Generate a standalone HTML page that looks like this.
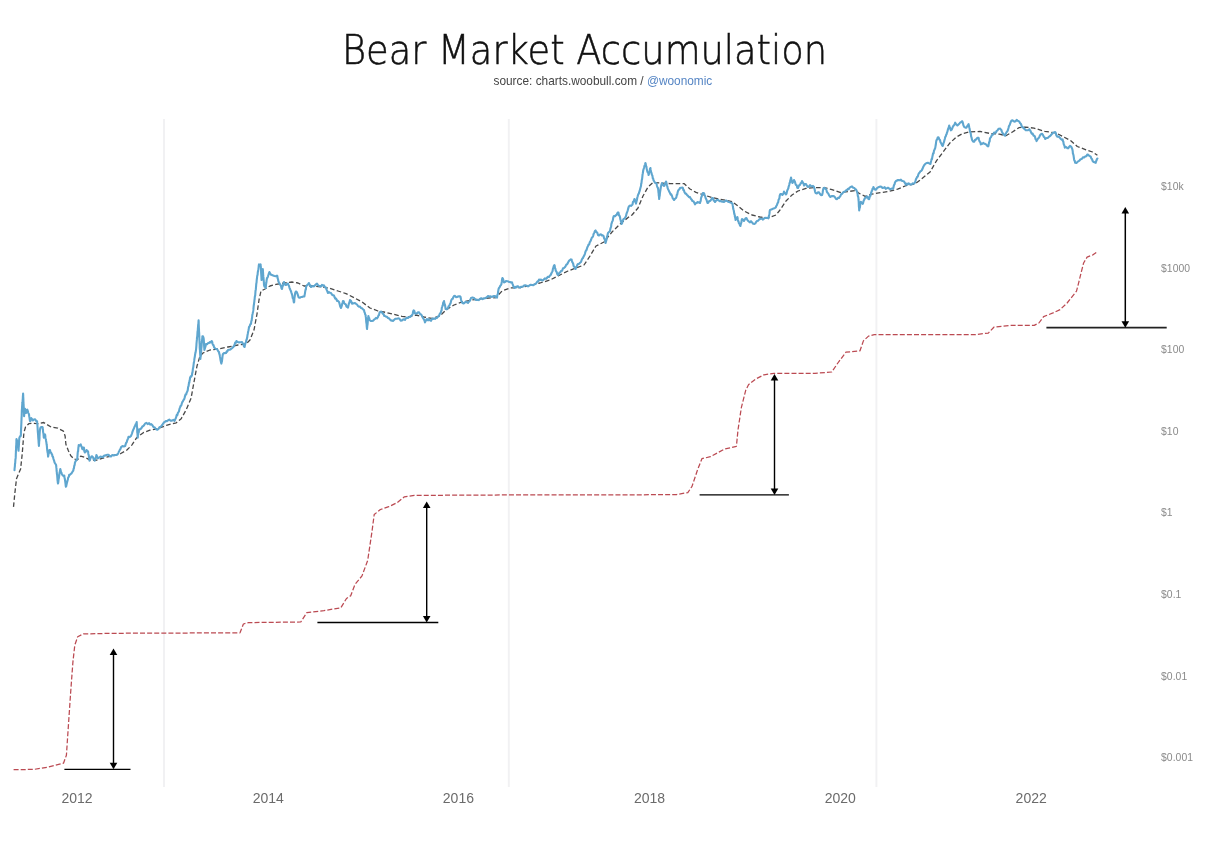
<!DOCTYPE html>
<html lang="en"><head><meta charset="utf-8"><title>Bear Market Accumulation</title>
<style>
html,body{margin:0;padding:0;background:#fff;}
body{width:1222px;height:850px;overflow:hidden;position:relative;font-family:"Liberation Sans",sans-serif;}
#title{position:absolute;left:342px;top:26.5px;font-size:40px;line-height:46px;color:#111;white-space:nowrap;font-family:"DejaVu Sans Light","DejaVu Sans","Liberation Sans",sans-serif;font-weight:200;transform-origin:0 0;transform:scaleX(0.92);-webkit-text-stroke:0.55px #111;}
#sub{position:absolute;left:493.5px;top:73px;font-size:11.85px;line-height:16px;color:#444;white-space:nowrap;}
#sub span{color:#5585c4;}
svg{position:absolute;left:0;top:0;}
.yl{font-family:"Liberation Sans",sans-serif;font-size:10.4px;letter-spacing:0.05px;fill:#8a8a8a;}
.xl{font-family:"Liberation Sans",sans-serif;font-size:14px;fill:#6b6b6b;}
</style></head><body>
<div id="title">Bear Market Accumulation</div>
<div id="sub">source: charts.woobull.com / <span>@woonomic</span></div>
<svg width="1222" height="850" viewBox="0 0 1222 850">
<line x1="164" y1="119.5" x2="164" y2="786.5" stroke="#e4e4e7" stroke-width="2" stroke-dasharray="1,1"/><line x1="508.8" y1="119.5" x2="508.8" y2="786.5" stroke="#e4e4e7" stroke-width="2" stroke-dasharray="1,1"/><line x1="876.4" y1="119.5" x2="876.4" y2="786.5" stroke="#e4e4e7" stroke-width="2" stroke-dasharray="1,1"/>
<polyline fill="none" stroke="#bb4a52" stroke-width="1.25" stroke-dasharray="5,2.1" stroke-linejoin="round" points="13.6,769.7 33.9,769.4 48,767.2 63.5,763.2 66.4,755.3 68.3,727.1 70.6,693.2 72.9,662.1 74.8,645.2 77.7,636.7 83.3,633.9 113,633.3 240,632.8 243.4,624 248.5,622.6 300.8,622 306.9,612.6 323.9,610.6 340.8,607.8 346.5,598.5 350.7,595.7 355,584.4 362,575.9 367.7,560.4 371.9,532.1 374.2,514.6 380.4,509.5 388.8,506.7 397.3,502.5 404.4,496.8 414.3,495.4 515.9,494.9 620,494.9 676.5,494.6 687.8,492.6 692,486.4 697.7,469.4 701.9,458.7 710.4,456.7 724.5,449.1 736.4,446.3 738,429.9 741.4,407.3 745.7,390.4 748.5,384.7 755.6,379.1 764,374.8 773.9,373.4 814.9,373.4 831.8,372 837.5,363.5 845.9,352.2 860,350.8 863.4,340.9 868.5,336.1 874.2,334.7 975.3,334.6 988.3,333.1 994.1,327 1010.6,325.4 1034.2,325.4 1038.9,323 1043.6,316.7 1053,312.9 1060.1,309.6 1067.1,303 1071.8,297.1 1076.5,291.2 1078.9,281.8 1081.2,272.4 1083.6,263 1087.1,257.1 1093,254.8 1097.3,251.7"/>
<polyline fill="none" stroke="#484848" stroke-width="1.3" stroke-dasharray="4.6,2.4" stroke-linejoin="round" points="13.5,506.9 14.8,493.7 16.5,478.8 18.5,473.9 20.6,469 22.2,454.1 23.9,432.7 25.5,427 28.8,423.7 32.9,423.2 37.9,423.7 43.7,422.5 51.1,427 57.7,428.1 63.4,431.1 65.1,436 65.9,444.3 68.4,450.8 70.8,455.8 74.1,459.1 77.4,459.9 80.7,456.1 84.8,457.4 89.8,459.9 95.6,460.4 102.1,458.3 112,455.8 120.3,453.8 126.9,450 131.8,445.1 136.7,437.7 143.3,432.7 149.9,430.2 158.2,428.6 166.4,425.3 176.3,422.8 181.2,418.7 186.2,409.7 191.1,398.1 194,382 197,366 200,356 203,353 210,350 218,349 228,347 238,345 246,344 250,340 254,330 257,314 259,300 261,291 265,289 270,286 276,284.4 284,283 292,282 298,283 304,286 312,286 322,287 330,288.4 338,291 346,293.6 354,297.6 362,302 370,308 378,311 386,312.4 394,314.4 402,316.4 408,317 416,315 424,317 432,318.4 440,316 446,310 454,305 462,302 472,300 484,298.4 496,297.6 502,291 510,288 520,287.6 530,285.6 540,283 550,280 558,276 568,271 576,268 584,265 590,256 596,246 604,242 612,232 620,224 630,216 632,215 638,208 643,196 648,187 653,182.4 660,183 670,183.6 678,183.6 684,183.6 690,189 696,192.4 704,195 712,197.6 722,199.6 732,201.6 738,206 744,211 752,215 760,217 768,218 776,215 780,210 786,201 792,195 798,191 806,188.4 814,187.6 824,187.6 832,189.6 840,192.4 848,191.6 856,190.4 858.7,193.1 865.2,196.3 871.6,194.2 880.3,192.7 889,191.4 897.6,189.2 906.3,185.5 914.9,184 921.4,179 930.1,171.9 936.6,160.6 943.1,152 949.6,143.3 956.1,137.2 962.6,133.6 969.1,132 979.9,131.4 990.7,133.6 999.4,134.2 1005.9,135.7 1012.4,132 1018.9,127.7 1025.4,127.1 1034,128.1 1044.8,131.4 1055.7,132.9 1064.3,137.2 1070.8,140.7 1077.3,146.5 1086,149.8 1092.5,152 1097.4,155.2"/>
<polyline fill="none" stroke="#5fa6cf" stroke-width="2.1" stroke-linejoin="round" stroke-linecap="round" points="14.5,470.3 14.6,468.5 14.8,466.8 14.9,466.3 15,463.8 15.2,463.2 15.3,461.5 15.4,459.5 15.6,458.8 15.7,457.4 15.8,455.2 15.8,454.4 15.9,452.4 15.9,451 16,450.2 16.1,449.5 16.1,446.8 16.2,445.6 16.3,444.9 16.3,444.1 16.4,442 16.4,440.2 16.5,439 17.1,440.9 17.6,441 17.7,441.6 17.9,444.4 18,444.8 18.1,446 18.2,447.3 18.4,449.1 18.5,450.8 18.6,449.9 18.7,447.3 18.8,446.6 18.9,445.2 19,443.3 19.1,442.2 19.2,439.8 19.3,438.4 19.4,437.7 20.1,436.3 20.8,436 20.9,434.9 20.9,432.9 21,431.3 21,430.3 21.1,428.6 21.2,426.9 21.2,426.3 21.3,424.7 21.4,422.4 21.4,421.5 21.5,420 21.5,419.1 21.6,417.4 21.7,415.2 21.7,414.9 21.8,411.9 21.8,411 21.9,409.7 22,408.7 22.1,406.1 22.2,405.3 22.3,403 22.4,402.6 22.6,401.3 22.7,399.5 22.8,398.6 22.9,396.1 23,395.3 23.1,393.5 23.2,395.1 23.2,396.5 23.3,397.7 23.4,399.8 23.4,401.4 23.5,402 23.5,403.7 23.6,404.1 23.7,406.6 23.7,408 23.8,410 23.9,411.1 23.9,411.6 24,413.2 24,415.1 24.1,416.2 24.3,413.9 24.5,413.2 24.6,411.2 24.8,409.6 25,408.8 25.3,409.4 25.7,412 26,412.9 26.4,411.2 26.9,410.3 27.3,409.7 27.8,410.9 28.3,413.1 28.8,413.8 29,414.3 29.2,416.2 29.5,417.6 29.7,419.4 29.9,420.5 30.1,421.2 30.5,420.9 30.9,418.8 31.3,418.2 32.1,419.1 32.9,420.4 34,419.5 35.1,419.2 36.1,420.9 37.1,421.2 37.2,423.5 37.3,423.4 37.4,424.9 37.5,426.5 37.6,427.9 37.7,429.8 37.8,431.4 37.9,432.7 38,433.7 38.1,434.7 38.2,437 38.3,438.3 38.5,440.2 38.6,442.3 38.7,443.3 38.8,444.5 38.9,445.9 39,444.7 39.1,443.5 39.2,441 39.3,441.1 39.4,439.5 39.5,438.3 39.5,436.8 39.6,434.7 39.7,433.3 39.8,431.4 39.9,431 40,429.4 40.6,427.4 41.2,427 42.5,427 42.7,427.6 42.8,429.2 43,430.4 43.1,432.1 43.3,432.9 43.5,434.1 43.6,435.7 43.8,437.7 44.2,435.9 44.6,435.3 45,434.4 45.2,435 45.5,437.9 45.7,438.8 45.9,439.4 46.1,441 46.4,442.6 46.6,444.3 46.8,445.4 46.9,446.4 47.1,449 47.3,450.7 47.4,451.1 47.6,452.5 47.8,453.1 47.9,454.5 48.1,456.6 48.4,455 48.6,453.5 48.9,453.2 49.1,450.7 49.4,450 50,450 50.5,452.5 51.1,452.5 51.6,453.9 52.1,454.5 52.5,456.5 53,456.9 53.5,459.1 54,460.3 54.5,462.2 55,463.2 55.5,464 56,464.8 56.2,465.8 56.3,467.4 56.5,468.5 56.6,471 56.8,472.1 56.9,473.9 57.1,474.6 57.2,475.8 57.4,478.3 57.5,480.1 57.7,481.3 57.8,482.6 58,483.5 58.2,482.8 58.4,481.4 58.6,479.2 58.8,478.5 59,477.2 59.2,475.6 59.4,473.6 59.6,472.3 59.9,471.3 60.1,469.9 60.3,469 60.7,470.6 61,472.3 61.4,472.6 61.8,473.9 62.6,475.3 63.5,475.9 64.3,475.6 64.5,477.8 64.7,478.2 64.9,479.3 65.1,480.7 65.3,482.1 65.5,483.5 65.7,485.6 65.9,486.8 66.2,486.3 66.5,484.9 66.9,483 67.2,482 67.5,480.5 67.8,479.9 68.2,477.4 68.5,477.3 68.9,476.6 69.2,474.7 70,474.8 70.8,473.9 71.6,473.3 72.5,471.7 73.3,470.6 73.6,468.7 73.9,468.4 74.2,466.2 74.4,465.7 74.7,464.6 75,462.4 75.7,461.1 76.4,460 77.1,459.1 77.3,458.5 77.4,456.7 77.6,454.3 77.7,452.8 77.9,451.5 78.1,451.4 78.2,449.9 78.4,447.3 78.5,447.1 78.7,445.1 79.7,445.6 80.7,444.3 81.1,445.8 81.6,446.5 82,448.1 82.4,449.2 83.1,447.7 83.7,447.5 84,447.9 84.2,450.8 84.5,451.5 84.8,452.5 85.4,451.7 85.9,451.6 86.5,450 87.3,450.7 88.1,451.7 88.3,453.7 88.5,454.9 88.7,455 88.9,456.4 89.1,457.8 89.3,458.9 89.5,460.7 90,459.8 90.5,458.2 90.9,457.5 91.4,456.6 92.2,456.3 93.1,457.4 93.6,459.2 94.2,459.3 94.7,460.7 95.1,459.2 95.6,458 96,457.2 96.4,455 96.9,456 97.5,458 98,458.3 98.8,457.7 99.7,457.2 100.5,456.6 101.8,456.9 103,457.1 104.1,455.5 105.2,455.6 106.3,455 107.4,454.8 108.5,454.8 109.6,456.1 111,456.4 112.3,455.1 113.7,455.5 115.1,455 116.4,455 117.8,454.1 118.3,453.1 118.9,451.5 119.4,450.7 120,449.6 120.5,448.9 121.1,447.2 122.5,446.1 123.8,446.4 125.2,445.9 125.7,444.1 126.1,442.9 126.6,442.5 127.1,440.7 127.6,439.5 128,438.6 128.5,436.8 129.8,437.1 131,436 131.5,434.6 132,433.6 132.4,432 132.9,430.7 133.4,429.4 133.9,428.5 134.5,426.8 135.1,425.8 135.6,424.4 136.1,424 136.7,422 136.8,423.8 136.9,425.5 137,427.1 137.1,427.3 137.2,429.2 137.2,431.4 137.3,432.6 137.4,432.8 137.5,434.2 137.6,436.2 137.7,437.7 137.9,435.5 138.2,434.5 138.4,432.8 138.7,432.5 138.9,431.3 139.2,429.4 140.4,429.3 141.7,427.8 142.5,426.2 143.3,426.1 144.2,425 145,423.7 146.4,422.9 147.7,424.1 149.1,423.2 150.2,424.7 151.3,424.1 152.4,425.3 153.4,427.1 154.4,427.2 155.5,428.4 156.5,429.4 157.5,429.7 158.6,428.8 159.6,427 160.6,427 161.4,425.9 162.2,425 163.1,423.7 163.9,422.5 164.7,422 165.8,421.1 166.9,421.3 168,420.4 169.3,419.6 170.6,420.7 172,420.6 173.3,419.9 174.6,420.9 175.2,419.3 175.7,418.5 176.2,416.9 176.8,414.8 177.3,415.1 177.9,412.9 178.5,412.1 179,411.2 179.6,408.4 180.1,407.4 180.7,405.7 181.2,405.7 181.8,403.5 182.3,402 182.9,401.4 183.4,400 184,399.6 184.5,398.1 185.1,395.9 185.6,394.4 186.2,394.5 186.7,392.6 187.3,391.5 187.8,389.9 188,387.8 188.3,386.5 188.5,386.3 188.8,384.5 189,382.5 189.3,382.8 189.5,380.9 189.8,379.9 190,378 190.7,376.3 191.3,376.6 192,375 192.2,372.8 192.4,372.8 192.7,370.6 192.9,368.9 193.1,367.9 193.3,367.1 193.6,364.5 193.8,362.8 194,362 194.2,360.7 194.4,358.9 194.7,357.3 194.9,356.1 195.1,354.5 195.3,353.5 195.6,352.3 195.8,351 196,350 196.1,349 196.3,346.7 196.4,345.6 196.5,343.6 196.6,342.5 196.8,340.4 196.9,339.4 197,337.5 197.1,337.3 197.3,335.5 197.4,334 197.5,332.1 197.6,331.2 197.8,330.7 197.9,327.9 198,327.8 198.1,325.7 198.2,324.5 198.4,323.7 198.5,321.6 198.6,320.4 198.7,321.9 198.7,323.7 198.8,325.7 198.8,326 198.9,328.4 199,329.6 199,331 199.1,332 199.2,333.4 199.2,334.3 199.3,336 199.3,337.3 199.4,340 199.5,340.6 199.5,341.9 199.6,344 199.7,344.6 199.7,347.3 199.8,348.8 199.9,349.8 200,350.4 200,351.7 200.1,353.2 200.2,354.8 200.3,355.7 200.3,357.5 200.4,359 200.5,357.1 200.7,356.9 200.8,355.5 200.9,353.3 201.1,351.3 201.2,351.2 201.3,348.5 201.5,347.2 201.6,346 201.7,343.7 201.8,343 201.9,341.8 202.1,340.5 202.2,338.6 202.3,337.8 202.4,336.4 203,336.3 203.6,338 203.7,338.9 203.8,339.9 203.9,341.8 204,342.5 204,343.8 204.1,345.6 204.2,346.9 204.3,348.8 204.4,350 204.7,348.9 205,348.1 205.4,346.7 205.7,345.6 206,344 207,344.3 208,343.1 209,343 209.9,342 210.7,342.5 211.6,341 212.1,341.6 212.6,343.8 213,344.9 213.5,345 214,347 215,348.3 216,349 217,349 217.7,350.2 218.3,351.4 219,352 219.3,354 219.6,354.3 219.9,356.4 220.2,357.8 220.5,359.9 220.8,361.2 221.1,362.7 221.4,363.6 221.6,362.4 221.9,361.6 222.1,359.8 222.3,358.5 222.5,356.3 222.8,354.5 223,354 224,353 225,353.1 226,353 226.7,351.3 227.3,351.6 228,350 229,349.8 230,349.6 231,349 232,348.2 233,347.3 234,346 234.6,344.7 235.2,342.6 235.8,342.8 236.4,341 237.7,342.1 239,342.4 240,342.3 241,342.2 242,342 242.7,343.5 243.3,343.7 243.9,346.2 244.6,347 244.9,345.3 245.3,343.7 245.6,342.7 246,342.3 246.3,340 246.7,339.7 247,338 247.2,337.5 247.5,335.2 247.8,333.7 248,332.5 248.2,331.5 248.5,330.2 248.8,328.6 249,327 249.7,326.3 250.3,324.2 251,324 251.2,322 251.4,320.9 251.7,320.4 251.9,318.3 252.1,317.5 252.3,315.1 252.6,313.9 252.8,312.9 253,312 253.2,310.9 253.4,309.4 253.5,308 253.7,305.8 253.9,304.8 254.1,303.2 254.3,301.8 254.5,299.7 254.6,299.6 254.8,296.9 255,296 255.2,295.5 255.3,294 255.5,291 255.6,290.4 255.8,289.7 255.9,288.5 256.1,286.2 256.2,284.5 256.4,283 256.5,283 256.7,280.2 256.8,279.5 257,278 257.2,276 257.4,275.3 257.6,274.7 257.8,271.9 258,271.8 258.2,269.9 258.4,269.2 258.6,267.5 258.8,265.3 259,264.4 259.8,265.1 260.6,264.4 260.7,265.8 260.8,266.4 260.9,267.8 261,270.1 261.1,271.4 261.1,272.6 261.2,273.7 261.3,275.5 261.4,276.8 261.5,279.2 261.6,280 261.8,277.7 261.9,277.7 262.1,276.5 262.2,273.8 262.4,273.9 262.5,272.1 262.7,271.1 262.8,269 262.9,270.1 263,271.7 263.1,273.2 263.2,275.7 263.3,276.4 263.5,277.5 263.6,279.1 263.7,280.2 263.8,281.3 263.9,282.8 264,285 264.5,286.6 265.1,286.6 265.6,288 265.8,287.4 266,284.7 266.2,283.3 266.4,282.3 266.6,280.3 266.8,279.2 267,278 267.5,277.6 268,276.3 268.4,275 268.9,273.4 269.4,272 270.3,273.7 271.1,274.8 272,275 273.2,275.6 274.4,276 275.7,276.2 277,275.6 277.3,276 277.7,278.5 278,279.2 278.3,281 278.7,282 279,283 279.7,283.6 280.4,285 280.9,285.5 281.5,288.4 282,289 282.4,286.9 282.8,286.1 283.2,284.5 283.6,283 284,282 284.7,283.4 285.3,284.9 286,285 287,283.9 288,283.6 288.5,285.2 289,285.9 289.5,287.8 290,289 290.5,290.2 291,291.2 291.4,292.6 291.9,294.1 292.4,296 292.7,298 293,298.6 293.4,299.3 293.7,301.9 294,302.4 294.2,302 294.3,299.6 294.5,297.7 294.7,296.5 294.9,294.9 295,294.1 295.2,293 295.8,291.6 296.4,291.6 296.9,292.3 297.4,293.6 298,295.3 298.5,297.1 299,297.6 300,297.8 301,297 302,297 303.2,296.5 304.4,296.4 304.6,295.1 304.9,293.6 305.1,292.2 305.4,290.4 305.6,289.5 305.9,289.4 306.1,286.6 306.4,286 307.3,285 308.1,284.2 309,283 309.7,285 310.3,285.2 311,287 312,286.4 313,286.1 314,286.4 315,285.3 316,284.4 317,283.6 318,285.2 319,285.8 320,286 321,286.5 322,284.9 323,285.6 324,285.4 325,287.3 326,287.6 326.5,289.7 327,290.3 327.5,291.8 328,293 329,292.1 330,292.8 331,293 332,294.6 333,295.3 334,295.6 334.6,297.3 335.2,298.6 335.8,298.4 336.4,299.2 337,301 338,300.9 339,302 339.4,303.2 339.8,304.7 340.2,306.4 340.6,307.2 341,308 341.4,306.9 341.8,305.7 342.2,303.7 342.6,302.5 343,301 343.7,301.2 344.3,303.5 345,304 345.8,304.4 346.5,306.6 347.2,307 348,307.6 348.3,306 348.7,304.4 349,303.4 349.3,302.8 349.7,301.6 350,300 350.7,300.5 351.3,301.6 352,303.6 353,303.4 354,303.3 355,303 356,303.8 357,304.5 358,306 359,306.8 360,306.5 361,308 362,308.3 363,309.3 364,310 364.4,312.1 364.8,312.8 365.2,314.4 365.6,315 365.7,316.4 365.9,317.3 366,318.7 366.2,321.4 366.3,322.4 366.4,323.1 366.6,323.9 366.7,326.2 366.9,327.9 367,329 367.2,327.4 367.3,325.7 367.5,325 367.6,324 367.8,321.3 367.9,319.5 368.1,318.6 368.2,317.3 368.4,316 368.8,317.7 369.2,318.1 369.6,320 370.8,321 372,321 373,320.8 374,319.7 375,319 376,317.8 377,318.5 378,317 378.5,315.4 379,315.1 379.5,312.8 380,312 381,311.7 382,312.4 382.8,313.8 383.5,313.8 384.2,315.9 385,316 386,316.7 387,316.8 388,318 389,318.3 390,319.5 391,320.4 392,320.6 393,320.9 394,320 395.3,318.8 396.7,318.7 398,318.4 399.3,318.5 400.7,320.6 402,320.4 403,319.6 404,319.3 405,320 405.7,318.4 406.3,318.2 407,317.6 408,318 409,317 410,317 411,316.1 412,315 412.4,314.7 412.8,313.5 413.2,311.2 413.6,310.4 414.3,310.9 414.9,313.3 415.6,313.6 416.8,313.4 418,312.4 419,312.2 420,314 421,314.4 421.7,315.4 422.3,316.6 423,318 423.5,318.8 424,319.6 424.5,320.4 425,322.4 425.7,320.9 426.3,319.9 427,319 428,320.3 429,319.3 430,320.4 431,320.8 432,318.9 433,319 434,318.4 435,318.9 436,318 437,317.9 438,316.5 439,316 439.7,313.9 440.3,313.3 441,312 441.3,310.6 441.6,310.4 441.8,307.8 442.1,307 442.4,306 442.8,305.5 443.2,302.7 443.6,302.1 444,301 444.3,302.9 444.5,304.1 444.8,304.2 445.1,305.5 445.3,306.9 445.6,309 446.8,309.3 448,308 448.7,306.2 449.3,305.8 450,304 450.5,303.5 451,301.2 451.5,299.8 452,299 452.7,298.8 453.3,297.2 454,296 455,295.9 456,297.1 457,297 458,296.5 459,296.2 460,296.4 460.5,296.8 461,299.5 461.4,301.1 461.9,301.9 462.4,303 463.7,303.5 465,302.4 466,301.7 467,302.3 468,303 468.8,301.7 469.5,301.3 470.2,300.1 471,298 472,297.6 473,297.6 474,298 475,299.1 476,300 477.3,299.7 478.7,300.1 480,299 481.3,298.2 482.7,299.1 484,298.4 485,298.2 486,297.8 487,297.1 488,296 489.3,296.5 490.7,296.4 492,297 493,296.3 494,296.1 495,296 496,297.3 497,297.6 497.3,295.5 497.6,294.3 497.9,293.9 498.1,291.7 498.4,290 498.7,288.5 499,288 499.7,287.1 500.3,285.7 501,285 501.3,284.5 501.6,282.9 501.8,281.7 502.1,279 502.4,278 502.8,278.4 503.2,279.5 503.6,281.3 504,282.4 505,282.1 506,281 507,281.2 508,281.2 509,282 510,282 511,282.5 512,282.4 512.5,283.8 513,285.1 513.4,286.4 513.9,287.2 514.4,288 515.3,286.8 516.1,287.5 517,286.4 518,286.4 519,287.3 520,287.6 521.3,286.7 522.7,286.7 524,285.6 525.3,285.3 526.7,285.7 528,286.4 529.3,285.5 530.7,284.8 532,285 533.3,285.2 534.7,284.2 536,283.6 536.8,282.3 537.5,281.4 538.2,281.5 539,279.6 540,279.9 541,279.6 542,280.4 543,280.3 544,279.3 545,278.4 546.3,278.8 547.7,276.8 549,277 549.8,275.7 550.5,275.1 551.2,273.9 552,272 552.5,271.3 553,268.4 553.4,267.4 553.9,265.7 554.4,265 554.7,265.6 555,268.3 555.4,268.7 555.7,270.6 556,271 556.7,272.1 557.3,274.3 558,275 558.8,273.9 559.5,272.6 560.2,272.5 561,271 562,270.8 563,268.3 564,268 564.8,267.3 565.5,266.4 566.2,264.8 567,264.4 567.8,263.1 568.5,261.6 569.2,260.6 570,260 570.8,259.4 571.6,259.6 572,261.1 572.4,262.4 572.8,262.9 573.2,263.8 573.6,266 574.3,266.7 574.9,268.3 575.6,269 576.2,267.2 576.8,266.2 577.4,264.7 578,264 579,263.9 580,262.8 581,262 581.7,259.9 582.3,258.6 583,258 583.5,256.7 584,255.9 584.5,255 585,253.6 585.5,251.6 586,250.5 586.5,250.2 587,248.4 587.5,246.9 588,246 588.6,244.5 589.2,244.4 589.8,242.1 590.4,241.3 591,240 591.5,238.5 592,237.4 592.6,237.1 593.1,236.1 593.6,234 594.3,232.6 594.9,231.1 595.6,230.4 596.2,232 596.8,232.2 597.4,233 598,235 599,235.5 600,234.5 601,234.4 601.9,235.5 602.7,235.3 603.6,236 604,238.1 604.4,238.7 604.8,239.6 605.2,240.7 605.6,243 605.9,241.7 606.3,240.4 606.6,239.5 607,236.5 607.3,236.1 607.7,234.2 608,233 609,232 610,231 610.3,229.1 610.6,228 610.9,227.2 611.1,226.6 611.4,223.9 611.7,223.3 612,222 612.4,221.3 612.8,220.4 613.2,217.9 613.6,216.5 614,216 615,216.3 616,215 616.7,215 617.3,213.2 618,212.4 618.5,212.7 619,215.5 619.5,215.6 620,217 620.3,219.1 620.6,220 621,221.8 621.3,222 621.6,224 622.1,223.3 622.6,221 623.1,220.1 623.6,219 624.4,218.6 625.2,217.6 626,216 626.4,214.1 626.9,212.7 627.3,211.7 627.7,210.5 628.1,208.9 628.6,207.1 629,206.4 630,205.5 631,205.9 632,205 632.5,204.5 633,201.8 633.4,201.5 633.9,200.7 634.4,199 634.8,199.3 635.2,201.9 635.6,201.8 636,203.6 636.3,202.3 636.7,200.8 637,199.5 637.3,197.5 637.7,196.3 638,195 638.5,194.1 639,193 639.4,191.5 639.8,190.5 640.2,188.7 640.6,187.3 641,186 641.2,183.7 641.4,183.4 641.6,181.8 641.8,179.9 642,179.5 642.2,178.1 642.4,176.1 642.6,174.2 642.8,173.4 643,172 643.3,170 643.7,168.8 644,168 644.4,166.1 644.7,165.5 645.1,164.3 645.4,163 645.7,163.6 646,166 646.4,166.4 646.7,169 647,170 647.4,171.7 647.8,172.5 648.2,172.9 648.6,175 649,173.6 649.3,172 649.7,171.6 650,168.7 650.4,168 650.7,170 651,171.7 651.4,172.6 651.7,174.2 652,175 652.4,175.6 652.8,178.3 653.2,178.6 653.6,180.6 654,181 655,182.7 656,183 656.5,183.6 657,186 657.5,187.5 658,188 658.1,188.6 658.3,190.5 658.5,192.6 658.6,192.9 658.8,195.6 658.9,195.8 659.1,198.2 659.2,199 659.4,197.1 659.5,196.4 659.7,195.9 659.9,193.3 660.1,192.1 660.2,191.3 660.4,190 660.7,188.3 661,186.4 661.4,185.2 661.7,183.8 662,183 662.7,184.8 663.3,185.3 664,186 664.5,185.6 665,183.2 665.5,183.2 666,181.6 666.3,182.1 666.7,184.1 667,185.5 667.3,186.3 667.7,188.4 668,189 668.7,190.4 669.3,191.8 670,193 670.7,194.7 671.3,194.3 672,196 672.7,198.2 673.3,198.9 674,200 675,198.8 676,198 676.4,197.1 676.8,194.8 677.2,194.7 677.6,192.5 678,191 678.7,189.7 679.3,189.5 680,188 681.2,187.7 682.4,187.6 682.9,188.1 683.4,190.2 683.9,190.1 684.4,192 685.3,193.6 686.1,193.6 687,195 688,195.9 689,197.2 690,197 690.6,198.2 691.2,199.3 691.8,199.7 692.4,201 693.3,201.2 694.1,202.4 695,204.4 695.9,203 696.7,203 697.6,202 698.8,202.4 700,203 700.3,201.7 700.7,201 701,198.3 701.3,197.2 701.7,196.6 702,195 702.8,193.1 703.6,193 704.1,193.4 704.6,195.2 705.1,196 705.6,198 706.1,199 706.6,200 707.1,201.9 707.6,203 708.4,202.5 709.2,201.1 710,201 710.8,200.2 711.6,199 712.4,198 713,198.3 713.7,200.8 714.4,200.5 715,202 716,200.7 717,199.9 718,200 719,200.6 720,201.3 721,201 722,201.8 723,201.5 724,202 725,201.2 726,200.5 727,201 728,201.7 729,202 730,202.4 731.2,202.7 732.4,203.6 732.7,205.3 732.9,206.3 733.2,208.6 733.5,209.6 733.7,210.1 734,212 734.3,214.1 734.5,213.8 734.8,216.1 735.1,217.2 735.3,218.2 735.6,220 736.1,218.2 736.7,218.5 737.2,217 737.5,217.3 737.8,219.5 738.2,221.4 738.5,221.2 738.8,223 739.3,223.5 739.9,225.2 740.4,226 740.7,224.6 741,223.5 741.4,222.4 741.7,219.8 742,219 743,219.7 744,221 744.8,219.6 745.6,218.2 746.4,218 747.3,219.9 748.1,220.9 749,221.6 750,222.3 751,221.2 752,222.4 753.2,223.8 754.4,224 755.3,223.4 756.1,221.9 757,221 758,220.8 759,219.6 760,219 761,218.7 762,218.7 763,219.6 764,218.6 765,217.7 766,218 767.2,217.9 768.4,218.4 768.7,217.4 768.9,216 769.2,214.8 769.5,213.2 769.7,211 770,210 771.2,209.6 772.4,209 773.7,208.4 775,208 775.7,207.5 776.3,206 777,205 777.4,203.4 777.8,202.9 778.2,202.2 778.6,199.7 779,199 779.4,198.4 779.7,195.6 780,194.8 780.4,194 781.4,194 782.4,195 782.9,194.3 783.5,193.5 784,191.6 784.7,193 785.3,193.2 786,194.4 786.5,193.7 787,191.4 787.5,189.9 788,189 788.3,188.5 788.6,186.8 789,185.7 789.3,184.5 789.6,183 790,182.5 790.3,180.2 790.6,179.6 791,177.6 791.4,179.3 791.7,180.9 792,181.5 792.4,183 792.9,182.4 793.5,181.1 794,180 794.5,180.9 795,182 795.5,184 796,185 796.7,185.2 797.3,187.7 798,188 798.7,186.4 799.3,185.1 800,185 800.7,183 801.3,183.1 802,181 802.5,181.9 803,182.7 803.5,183.6 804,185.6 805,184 806,184 806.7,185.3 807.3,186.2 808,187 809,186.4 810,185 811,186.1 812,186.4 813,185.9 814,187 814.3,188.4 814.6,189.2 815,191.2 815.3,192.4 815.6,193 816.8,193.4 818,192.4 819,192.4 820,194 821,195.2 822,195 822.3,194.3 822.6,193 823,190.1 823.3,188.9 823.6,188 824.6,187.8 825.6,189 826.2,189.2 826.8,191.6 827.4,192.6 828,193 828.6,194.2 829.2,195.6 829.8,196.2 830.4,197 831.7,196.1 833,196 834,196.3 835,197.3 836,199 837,199.1 838,197.8 839,198 839.8,196.7 840.5,195.9 841.2,194.1 842,194 842.8,192.8 843.6,192 844.4,191.6 845.3,191.5 846.1,190.3 847,190 847.9,188.9 848.7,189.2 849.6,187.6 850.8,187 852,186.4 853.2,187.8 854.4,188 855.3,189.4 856.1,189.6 857,191.6 857.3,192.7 857.6,194 857.8,195.9 858.1,196.4 858.4,198 858.5,199.7 858.6,200.8 858.7,201.6 858.8,204.2 858.8,204.2 858.9,206.8 859,207.1 859.1,208.1 859.2,210.4 859.5,208.4 859.7,208 860,206.9 860.3,203.7 860.5,203.1 860.8,201.7 861.7,202.8 862.6,203.9 863.1,203.1 863.7,200.6 864.2,199.8 864.7,198.5 865.4,197.5 866.2,197.6 866.9,196.3 867.6,196.8 868.4,199 869.1,199.2 869.5,197.6 869.9,196.2 870.4,195.9 870.8,194.3 871.2,193.1 871.6,191.2 872.1,190.9 872.5,188.7 873,188.7 873.4,187 874.1,188.3 874.8,189.4 875.5,189.8 876.2,189.3 877,188.1 877.7,187.7 879,187 880.3,186.6 881.4,186.8 882.5,188 883.6,187.7 884.7,187.2 885.7,188.8 886.8,188.3 887.9,187.7 888.9,188.4 890,189.2 891.5,188.6 892.9,188.8 893.3,188.2 893.7,186.2 894.2,184.7 894.6,184.3 895,182.3 895.9,181.1 896.7,180.8 897.6,180.1 898.7,180 899.8,180.3 900.9,179.7 901.8,180.7 902.8,181 903.7,181.2 904.4,182.2 905.2,183.4 905.9,184.9 906.8,183.7 907.6,184.5 908.5,183.3 909.6,184 910.6,184.5 911.7,184.4 912.6,183.4 913.6,183.6 914.5,183.3 915,182.5 915.5,180.9 916.1,178.8 916.6,178.1 917.1,176.9 917.8,176.5 918.4,174.2 919.1,173 919.7,172.5 920.4,171.2 921.1,171 921.8,170.3 922.5,168.8 923.2,167 923.9,165.7 924.6,164.7 925.3,163.9 926.6,163 927.9,162.8 929.2,163.4 930.5,163.9 930.9,161.8 931.2,160.7 931.6,159 932,159 932.3,157.1 932.7,155.2 933.1,153.2 933.6,153.4 934,150.6 934.5,149.8 934.9,148.7 935.2,148.1 935.5,146.3 935.8,144.8 936,142.8 936.3,140.9 936.6,140 937.2,139.3 937.7,137.4 938.3,137.2 938.8,137.9 939.4,139.5 940,140.1 940.5,142.2 941.2,143.3 942,145.2 942.7,145.9 943.1,144.9 943.5,143.1 944,142 944.4,140.3 944.8,139 945.2,137.1 945.7,136.6 946.1,134.9 946.6,134.2 947,132.5 947.4,131.8 947.9,129.6 948.3,128.4 948.8,127.3 949.2,125.5 949.6,126.6 950,127.4 950.5,129.5 950.9,130.3 951.6,129.7 952.3,128.2 953,126.4 953.7,125.5 954.5,124.6 955.2,122.7 955.9,124 956.7,124.8 957.4,125.5 958.5,124.4 959.5,123.4 960.4,122.3 961.2,122.2 962.1,121.2 962.5,121.7 963,123.4 963.4,125.2 963.9,126.3 964.3,127.1 965.4,127.6 966.5,127.7 967.2,126.1 967.9,125.2 968.6,124.2 968.9,125.5 969.2,127.2 969.5,128.2 969.8,130 970.1,131.9 970.4,132.5 970.7,133.2 971,135.3 971.2,136.8 971.5,137.3 971.8,138.7 972.1,140 973.2,141.7 974.3,141.6 975,139.9 975.7,139.9 976.4,139 977.5,137.8 978.6,137.9 979,139.7 979.5,141.3 979.9,141.8 980.4,142.4 980.8,144.4 981.7,144 982.5,143.5 983.4,142.9 984.3,143.8 985.1,143.9 986,144.4 987,145.7 988.1,146.5 988.5,145.7 988.8,143.7 989.2,142 989.6,141.6 989.9,138.8 990.3,137.9 991,137.1 991.7,135.5 992.4,134.6 993.3,134.4 994.1,132.5 995,132.5 995.9,132.6 996.7,130.8 997.6,130.3 998.5,128.9 999.3,128.8 1000.2,128.6 1000.8,129.5 1001.3,129.9 1001.9,131.7 1002.4,132.9 1003.3,133.7 1004.1,135.1 1005,135.7 1005.5,134.4 1006.1,133.1 1006.7,132 1007.2,131.4 1007.6,130.7 1008,129.8 1008.5,127.9 1008.9,126.2 1009.3,125.5 1009.8,124.8 1010.4,122.9 1011,121.3 1011.5,120.6 1012.8,120.4 1014.1,121.6 1015,121.5 1015.8,121 1016.7,119.9 1017.6,120.7 1018.4,121 1019.3,121.6 1020,123 1020.8,123.7 1021.5,125.5 1022.4,127.4 1023.2,127.3 1024.1,128.6 1025,129.4 1025.8,130.3 1026.7,130.3 1028,130.3 1029.3,129.2 1029.9,130.2 1030.5,131 1031.2,132.6 1031.8,133.6 1032.7,133.6 1033.5,135.6 1034.4,135.7 1035,136.8 1035.5,139 1036,139.3 1036.6,141.1 1037.3,139.8 1038.1,138.5 1038.8,137.9 1039.5,136.5 1040.2,134.9 1040.9,134.2 1042,133.8 1043.1,135.1 1043.8,136.8 1044.6,137.3 1045.3,139 1046.6,138 1047.9,137.9 1048.8,136.8 1049.6,136.4 1050.5,135.7 1051.4,134.5 1052.2,133.8 1053.1,132.5 1054.2,132.5 1055.2,132 1055.8,133 1056.3,135.2 1056.9,136.2 1057.4,136.8 1058.7,136.6 1060,137.9 1060.9,139 1061.7,139.6 1062.6,139.4 1063,141.3 1063.3,141.5 1063.7,144.1 1064.1,145.1 1064.4,145.4 1064.8,147.6 1066.1,147 1067.4,148.1 1068.3,148.2 1069.1,146.9 1070,145.9 1070.7,146.4 1071.4,147 1072.1,148.7 1072.4,149.5 1072.7,151.1 1072.9,153.5 1073.2,154.2 1073.5,155.3 1073.8,157.4 1074.1,159.5 1074.4,160.6 1074.8,160.9 1075.1,162.8 1076.4,163 1077.7,161.7 1078.6,161.2 1079.4,160.7 1080.3,159.5 1081.2,159.1 1082,158.8 1082.9,157.4 1084.2,157.4 1085.5,156.3 1086.4,156.3 1087.2,154.6 1088.1,154.6 1089,155.6 1089.8,156.1 1090.7,156.7 1091.3,158.4 1092,159.1 1092.7,161.1 1093.3,161.7 1094.5,162.3 1095.7,162.8 1096.1,161.3 1096.6,160.2 1097,158.9 1097.4,158.5"/>
<line x1="64.4" y1="769.3" x2="130.5" y2="769.3" stroke="#000" stroke-width="1.3"/>
<line x1="113.5" y1="653.9" x2="113.5" y2="763.8" stroke="#000" stroke-width="1.4"/>
<polygon points="113.5,648.4 109.7,654.9 117.3,654.9" fill="#000"/>
<polygon points="113.5,769.3 109.7,762.8 117.3,762.8" fill="#000"/>
<line x1="317.4" y1="622.5" x2="438.3" y2="622.5" stroke="#000" stroke-width="1.3"/>
<line x1="426.7" y1="507.1" x2="426.7" y2="617.0" stroke="#000" stroke-width="1.4"/>
<polygon points="426.7,501.6 422.9,508.1 430.5,508.1" fill="#000"/>
<polygon points="426.7,622.5 422.9,616.0 430.5,616.0" fill="#000"/>
<line x1="699.6" y1="494.9" x2="788.9" y2="494.9" stroke="#000" stroke-width="1.3"/>
<line x1="774.5" y1="379.5" x2="774.5" y2="489.4" stroke="#000" stroke-width="1.4"/>
<polygon points="774.5,374 770.7,380.5 778.3,380.5" fill="#000"/>
<polygon points="774.5,494.9 770.7,488.4 778.3,488.4" fill="#000"/>
<line x1="1046.4" y1="327.7" x2="1166.7" y2="327.7" stroke="#222" stroke-width="1.7"/>
<line x1="1125.3" y1="212.5" x2="1125.3" y2="322.2" stroke="#000" stroke-width="1.5"/>
<polygon points="1125.3,207 1121.5,213.5 1129.1,213.5" fill="#000"/>
<polygon points="1125.3,327.7 1121.5,321.2 1129.1,321.2" fill="#000"/>
<text x="1161" y="190.1" class="yl">$10k</text><text x="1161" y="271.9" class="yl">$1000</text><text x="1161" y="353.1" class="yl">$100</text><text x="1161" y="434.6" class="yl">$10</text><text x="1161" y="516.2" class="yl">$1</text><text x="1161" y="598" class="yl">$0.1</text><text x="1161" y="679.5" class="yl">$0.01</text><text x="1161" y="761.2" class="yl">$0.001</text>
<text x="77.1" y="802.6" class="xl" text-anchor="middle">2012</text><text x="268.3" y="802.6" class="xl" text-anchor="middle">2014</text><text x="458.4" y="802.6" class="xl" text-anchor="middle">2016</text><text x="649.5" y="802.6" class="xl" text-anchor="middle">2018</text><text x="840.3" y="802.6" class="xl" text-anchor="middle">2020</text><text x="1031.2" y="802.6" class="xl" text-anchor="middle">2022</text>
</svg>
</body></html>
